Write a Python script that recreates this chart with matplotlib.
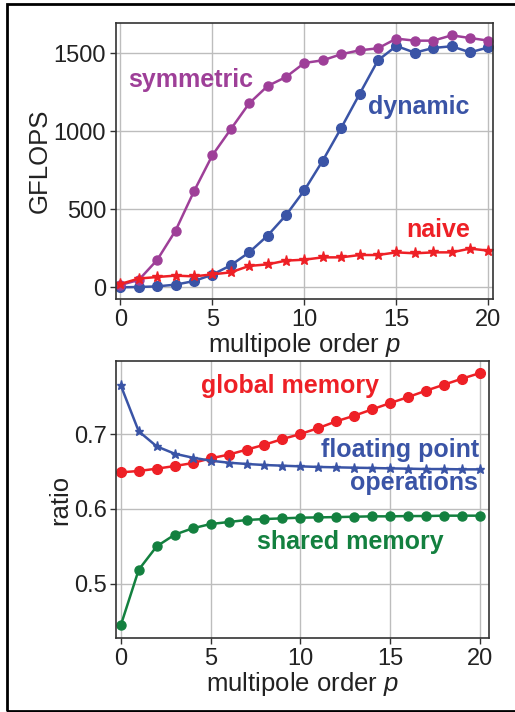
import numpy as np
import matplotlib
matplotlib.use('Agg')
import matplotlib.pyplot as plt
import matplotlib.patches

plt.rcParams['font.family'] = ['Liberation Sans', 'DejaVu Sans']
plt.rcParams['mathtext.fontset'] = 'custom'
plt.rcParams['mathtext.it'] = 'Liberation Sans:italic'

# --- data: multipole order p = 0..20 ---
p = np.arange(21)

# top panel: GFLOPS
gflops_symmetric = [15, 47, 175, 363, 615, 846, 1013, 1179, 1290, 1348, 1438,
                    1455, 1494, 1519, 1532, 1594, 1581, 1581, 1615, 1598, 1581]
gflops_dynamic = [0, 2, 6, 17, 40, 81, 141, 224, 331, 462, 622,
                  812, 1021, 1239, 1455, 1547, 1504, 1534, 1545, 1506, 1538]
gflops_naive = [21, 56, 66, 75, 70, 83, 96, 137, 147, 171, 177,
                192, 192, 207, 207, 224, 218, 224, 224, 248, 235]

# bottom panel: ratios
ratio_global = [0.6488, 0.6506, 0.6537, 0.6572, 0.6612, 0.6675, 0.6724, 0.6791,
                0.6857, 0.6933, 0.7000, 0.7080, 0.7170, 0.7245, 0.7330, 0.7414,
                0.7494, 0.7580, 0.7660, 0.7740, 0.7815]
ratio_flops = [0.765, 0.7036, 0.6835, 0.6737, 0.6684, 0.6644, 0.6617, 0.6600,
               0.6586, 0.6577, 0.6568, 0.6560, 0.6555, 0.6550, 0.6546, 0.6541,
               0.6537, 0.6532, 0.6532, 0.6528, 0.6528]
ratio_shared = [0.4443, 0.5187, 0.5499, 0.5655, 0.5740, 0.5797, 0.5824, 0.5851,
                0.5864, 0.5873, 0.5882, 0.5886, 0.5890, 0.5895, 0.5900, 0.5900,
                0.5904, 0.5904, 0.5909, 0.5909, 0.5909]

# --- colors ---
PURPLE = '#9E3F98'
BLUE = '#3A54A6'
RED = '#EE2026'
GREEN = '#13803F'

TICK_FS = 17
LABEL_FS = 18.5
ANNOT_FS = 18

fig = plt.figure(figsize=(5.15, 7.12), dpi=100)

# outer frame
frame = matplotlib.patches.Rectangle((0.0136, 0.0014), 1.1, 0.993,
                                     transform=fig.transFigure, fill=False,
                                     ec='black', lw=2.0, clip_on=False)
fig.patches.append(frame)


def style(ax):
    ax.grid(True, color='#bdbdbd', lw=1.0)
    ax.set_axisbelow(True)
    for s in ax.spines.values():
        s.set_color('#333333')
        s.set_linewidth(1.2)
    ax.tick_params(direction='out', length=4, width=1, color='#333333',
                   labelsize=TICK_FS, pad=3, labelcolor='#222222')
    ax.set_xticks([0, 5, 10, 15, 20])
    ax.set_xlabel('multipole order $p$', fontsize=LABEL_FS, labelpad=0,
                  color='#222222')


# --- top panel ---
ax1 = fig.add_axes([0.2247, 0.5796, 0.7326, 0.3885])
style(ax1)
ax1.plot(p, gflops_dynamic, '-o', color=BLUE, lw=1.8, ms=7)
ax1.plot(p, gflops_symmetric, '-o', color=PURPLE, lw=1.8, ms=6.5)
ax1.plot(p, gflops_naive, '-*', color=RED, lw=1.8, ms=8)
ax1.set_xlim(-0.25, 20.25)
ax1.set_ylim(-77, 1696)
ax1.set_yticks([0, 500, 1000, 1500])
ax1.set_ylabel('GFLOPS', fontsize=LABEL_FS, labelpad=1, color='#222222')

ax1.text(0.42, 1329, 'symmetric', color=PURPLE, fontsize=ANNOT_FS,
         fontweight='bold', ha='left', va='center')
ax1.text(13.45, 1154, 'dynamic', color=BLUE, fontsize=ANNOT_FS,
         fontweight='bold', ha='left', va='center')
ax1.text(15.55, 368, 'naive', color=RED, fontsize=ANNOT_FS,
         fontweight='bold', ha='left', va='center')

# --- bottom panel ---
ax2 = fig.add_axes([0.2258, 0.1035, 0.7237, 0.3899])
style(ax2)
ax2.plot(p, ratio_shared, '-o', color=GREEN, lw=1.8, ms=6.5)
ax2.plot(p, ratio_global, '-o', color=RED, lw=1.8, ms=7)
ax2.plot(p, ratio_flops, '-*', color=BLUE, lw=1.8, ms=6.5)
ax2.set_xlim(-0.25, 20.5)
ax2.set_ylim(0.427, 0.798)
ax2.set_yticks([0.5, 0.6, 0.7])
ax2.set_ylabel('ratio', fontsize=LABEL_FS, labelpad=1, color='#222222')

ax2.text(4.47, 0.7637, 'global memory', color=RED, fontsize=ANNOT_FS,
         fontweight='bold', ha='left', va='center')
ax2.text(19.94, 0.6782, 'floating point', color=BLUE, fontsize=ANNOT_FS,
         fontweight='bold', ha='right', va='center')
ax2.text(19.9, 0.6345, 'operations', color=BLUE, fontsize=ANNOT_FS,
         fontweight='bold', ha='right', va='center')
ax2.text(12.8, 0.5557, 'shared memory', color=GREEN, fontsize=ANNOT_FS,
         fontweight='bold', ha='center', va='center')

fig.savefig('out.png', dpi=100)
